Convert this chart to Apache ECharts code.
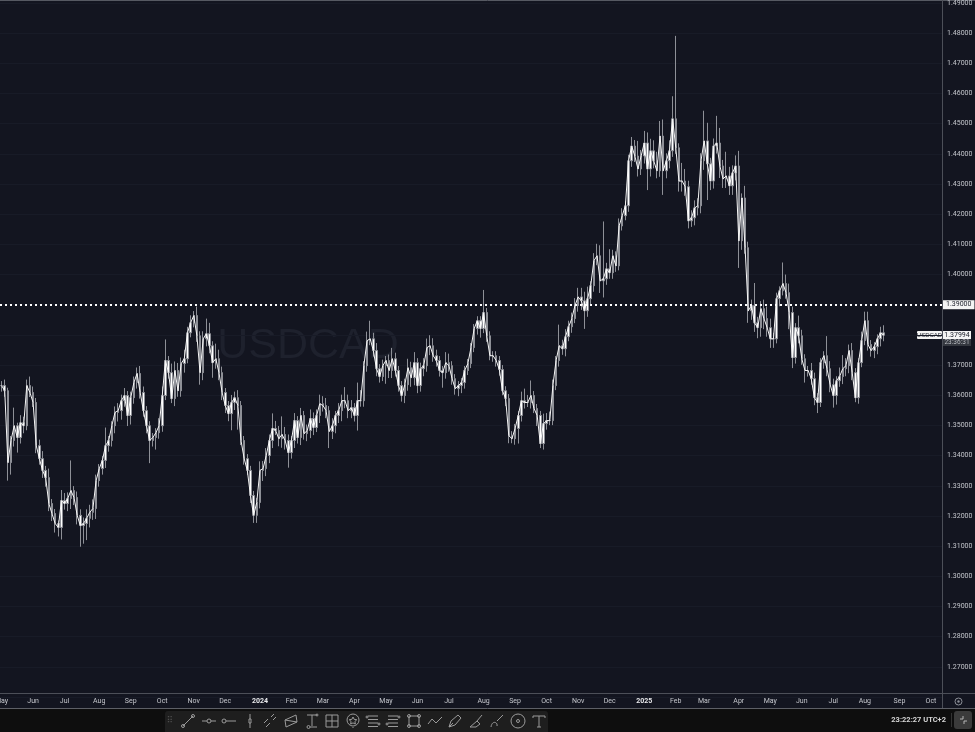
<!DOCTYPE html>
<html>
<head>
<meta charset="utf-8">
<style>html,body{margin:0;padding:0;background:#131520}#c{width:975px;height:732px}</style>
<script src="https://cdn.jsdelivr.net/npm/echarts@6/dist/echarts.min.js"></script>
</head>
<body>
<div id="c"></div>
<script>
const symbolName = 'USDCAD';
const lastPrice = '1.37994';
const countdown = '23:36:31';
const clockText = '23:22:27 UTC+2';
const levelPrice = 1.39;
const monthNames = ['Jan','Feb','Mar','Apr','May','Jun','Jul','Aug','Sep','Oct','Nov','Dec'];
const startDate = '2023-05-01';
const slotDays = 3;
const slotCount = 299;

const closes = [
1.3632,1.3615,1.3377,1.3450,1.3499,1.3460,1.3509,1.3499,1.3632,1.3609,
1.3576,1.3433,1.3390,1.3351,1.3327,1.3241,1.3208,1.3175,1.3162,1.3251,
1.3241,1.3258,1.3284,1.3261,1.3202,1.3168,1.3175,1.3192,1.3212,1.3225,
1.3317,1.3357,1.3384,1.3433,1.3450,1.3499,1.3543,1.3549,1.3582,1.3599,
1.3533,1.3592,1.3642,1.3672,1.3609,1.3549,1.3499,1.3450,1.3460,1.3476,
1.3499,1.3599,1.3715,1.3675,1.3589,1.3682,1.3615,1.3705,1.3721,1.3807,
1.3840,1.3864,1.3797,1.3675,1.3787,1.3804,1.3764,1.3708,1.3721,1.3675,
1.3609,1.3566,1.3539,1.3576,1.3592,1.3566,1.3450,1.3390,1.3351,1.3268,
1.3202,1.3245,1.3351,1.3357,1.3400,1.3450,1.3490,1.3483,1.3456,1.3470,
1.3450,1.3410,1.3450,1.3516,1.3460,1.3533,1.3473,1.3483,1.3523,1.3493,
1.3533,1.3572,1.3566,1.3549,1.3480,1.3499,1.3533,1.3549,1.3582,1.3582,
1.3549,1.3559,1.3533,1.3582,1.3582,1.3698,1.3781,1.3787,1.3748,1.3688,
1.3662,1.3698,1.3715,1.3682,1.3721,1.3682,1.3632,1.3599,1.3635,1.3691,
1.3658,1.3708,1.3632,1.3688,1.3698,1.3758,1.3764,1.3731,1.3715,1.3682,
1.3675,1.3708,1.3698,1.3655,1.3622,1.3632,1.3642,1.3682,1.3705,1.3758,
1.3821,1.3847,1.3821,1.3874,1.3797,1.3731,1.3731,1.3715,1.3685,1.3615,
1.3589,1.3466,1.3456,1.3490,1.3533,1.3582,1.3576,1.3576,1.3599,1.3556,
1.3533,1.3440,1.3506,1.3516,1.3516,1.3632,1.3715,1.3764,1.3754,1.3794,
1.3827,1.3854,1.3897,1.3926,1.3913,1.3880,1.3920,1.3963,1.4046,1.4062,
1.3979,1.3986,1.4019,1.4006,1.4062,1.4029,1.4161,1.4195,1.4228,1.4377,
1.4426,1.4393,1.4350,1.4393,1.4436,1.4350,1.4410,1.4377,1.4344,1.4459,
1.4344,1.4377,1.4410,1.4516,1.4420,1.4310,1.4310,1.4291,1.4178,1.4188,
1.4221,1.4228,1.4377,1.4443,1.4367,1.4310,1.4426,1.4436,1.4360,1.4317,
1.4327,1.4294,1.4337,1.4360,1.4112,1.4254,1.4089,1.3880,1.3897,1.3840,
1.3824,1.3887,1.3854,1.3824,1.3787,1.3787,1.3920,1.3946,1.3970,1.3940,
1.3874,1.3725,1.3824,1.3797,1.3721,1.3682,1.3682,1.3655,1.3592,1.3576,
1.3708,1.3731,1.3688,1.3635,1.3599,1.3648,1.3662,1.3688,1.3698,1.3748,
1.3675,1.3592,1.3708,1.3781,1.3847,1.3768,1.3748,1.3761,1.3787,1.3807,
1.3799
];
// wick lengths above / below the body, in pips, read bar by bar
const upperWicks = [
15,20,10,15,60,10,25,20,20,30,
20,15,20,25,15,30,15,15,10,35,
25,20,100,15,20,20,20,30,25,30,
20,15,15,60,15,15,20,25,20,25,
15,20,20,20,25,20,15,15,15,15,
25,30,70,15,30,30,25,20,30,20,
25,15,30,15,25,50,36,15,50,30,
20,15,15,25,20,25,15,15,15,15,
15,15,30,25,25,20,50,25,15,60,
25,20,15,25,15,25,15,20,30,20,
20,30,25,25,15,25,15,25,20,45,
20,25,15,60,35,15,30,60,20,25,
15,20,15,20,36,20,15,15,20,30,
20,35,15,20,25,30,35,25,20,15,
15,35,30,15,15,15,15,15,15,15,
15,15,15,75,15,15,15,15,15,15,
15,15,15,15,15,30,40,25,50,15,
15,15,33,25,30,20,15,70,20,25,
20,20,25,30,30,30,40,15,25,40,
35,190,20,65,20,15,25,25,15,20,
30,20,50,20,40,35,40,35,30,50,
55,25,35,75,275,15,60,40,20,25,
25,25,25,100,60,20,25,90,50,20,
80,30,25,35,50,15,40,20,20,75,
20,25,30,40,30,20,20,15,70,30,
30,20,15,40,20,15,15,25,20,15,
15,15,65,25,20,15,30,45,25,20,
25,15,15,30,30,30,15,15,15,20,
25
];
const lowerWicks = [
20,20,60,40,20,50,20,25,15,15,
15,25,20,25,30,25,25,30,30,40,
20,25,35,25,30,70,60,55,30,25,
35,20,20,25,20,20,25,30,30,20,
35,30,20,20,20,20,25,75,20,40,
20,20,15,20,15,25,20,20,30,15,
15,15,20,40,25,25,25,50,20,25,
25,25,25,55,25,80,15,20,15,25,
25,25,20,35,25,25,25,15,25,30,
30,50,20,25,20,25,20,25,25,25,
15,25,20,25,55,25,25,25,35,25,
25,25,20,50,20,20,20,15,20,25,
20,15,60,25,25,20,20,20,25,20,
30,25,25,20,25,20,25,20,20,20,
50,20,20,20,20,25,25,20,15,15,
15,20,30,15,20,15,20,20,20,15,
25,25,15,20,50,20,20,15,20,15,
35,15,20,20,15,15,15,20,20,25,
15,20,15,20,30,60,20,20,20,15,
40,55,20,20,20,20,15,15,15,20,
20,20,25,20,25,70,25,25,25,20,
80,25,25,20,20,35,35,30,25,20,
25,25,25,30,120,30,25,25,40,30,
30,30,30,25,90,30,20,40,30,30,
35,30,35,30,30,30,15,25,15,20,
55,35,20,25,20,40,20,20,25,35,
15,20,25,25,40,30,20,25,25,25,
25,15,20,15,15,20,20,25,25,25,
20
];

const opens = closes.map((c, i) => i === 0 ? c : closes[i - 1]);
const ohlc = closes.map((c, i) => {
  const o = opens[i];
  return [o, c,
    +(Math.min(o, c) - (lowerWicks[i] || 0) / 10000).toFixed(4),
    +(Math.max(o, c) + (upperWicks[i] || 0) / 10000).toFixed(4)];
});

const t0 = Date.parse(startDate + 'T00:00:00Z');
// a month label sits on the slot nearest the 1st, so each slot is tested one day ahead
const slotDates = Array.from({length: slotCount}, (_, i) => new Date(t0 + (i * slotDays + 1) * 864e5));
const categories = slotDates.map(d => d.toISOString().slice(0, 10));
const isMonthStart = i => i === 0 || slotDates[i].getUTCMonth() !== slotDates[i - 1].getUTCMonth();

const BG = '#131520', GREY = '#4c4f58', TXT = '#c4c6cc', FONT = 'Roboto, "Liberation Sans", sans-serif';

// toolbar glyphs, each in a 16x16 box
const toolIcons = [
 'M3 13L13 3M3 13m-1.5 0a1.5 1.5 0 1 0 3 0a1.5 1.5 0 1 0-3 0M13 3m-1.5 0a1.5 1.5 0 1 0 3 0a1.5 1.5 0 1 0-3 0',
 'M1 8H6M10 8H15M6 8a2 2 0 1 0 4 0a2 2 0 1 0-4 0',
 'M1 8a2 2 0 1 0 4 0a2 2 0 1 0-4 0M5 8H15',
 'M8 1V6M8 10V15M7 6h2v4h-2z',
 'M2 10L6 6M9 4L12 1M4 14L8 10M11 7L14 4',
 'M2 7L13 2L14 9L3 14ZM2 7L14 9',
 'M3 2H13M8 2V13M3 14a1.5 1.5 0 1 0 3 0a1.5 1.5 0 1 0-3 0M6 14H13M13 2m-1 0a1 1 0 1 0 2 0a1 1 0 1 0-2 0',
 'M2 2H14V14H2ZM8 2V14M2 8H14',
 'M8 14V15M8 1a6 6 0 1 0 .01 0M8 4l1.2 2.4 2.6.3-1.9 1.8.5 2.6L8 9.9l-2.4 1.2.5-2.6-1.9-1.8 2.6-.3Z',
 'M3 3H13M3 6.5H13M3 10H13M3 13.5H13M2 3a1 1 0 1 0 .01 0M14 10a1 1 0 1 0 .01 0',
 'M3 3H13M3 6.5H13M3 10H13M3 13.5H13M14 3a1 1 0 1 0 .01 0M2 10a1 1 0 1 0 .01 0',
 'M3 3H13V13H3ZM1.5 3a1.5 1.5 0 1 0 3 0a1.5 1.5 0 1 0-3 0M11.5 3a1.5 1.5 0 1 0 3 0a1.5 1.5 0 1 0-3 0M1.5 13a1.5 1.5 0 1 0 3 0a1.5 1.5 0 1 0-3 0M11.5 13a1.5 1.5 0 1 0 3 0a1.5 1.5 0 1 0-3 0',
 'M1 11L5 6L9 10L15 4',
 'M2 14L4 8L11 2L14 5L8 12ZM2 14L6 10',
 'M2 14L9 8L12 11L8 14ZM9 8L14 2',
 'M2 14C3 7 9 9 8 13M8 8L14 2',
 'M8 1a7 7 0 1 0 .01 0M8 6.5a1.5 1.5 0 1 0 .01 0',
 'M2 3H14M8 3V14M6 14H10M2 3V5M14 3V5'
];
const toolX = [188,209,229,250,270,291,312,332,353,373,393,414,435,455,476,497,518,539];

const iconStyle = {fill:'none', stroke:'#9a9a9a', lineWidth:1};
function registerIcon(name, d) {
  echarts.graphic.registerShape(name, echarts.graphic.extendPath(d, {}));
}
toolIcons.forEach((d, i) => registerIcon('tool' + i, d));
registerIcon('shrink', 'M5 1V4H2M6 9V6H9');

const graphics = [
  {type:'text', x:308, y:346, style:{text:symbolName, fill:'#1e212d', font:'43px "Liberation Sans", Arial, sans-serif', textAlign:'center', textVerticalAlign:'middle'}},
  {type:'line', shape:{x1:0,y1:0.5,x2:975,y2:0.5}, style:{stroke:'#565962',lineWidth:1}},
  {type:'line', shape:{x1:0,y1:693.5,x2:975,y2:693.5}, style:{stroke:GREY,lineWidth:1}},
  {type:'rect', shape:{x:0,y:708,width:975,height:24}, style:{fill:'#0e0e0e'}},
  {type:'line', shape:{x1:0,y1:708.5,x2:975,y2:708.5}, style:{stroke:'#5d5f66',lineWidth:1}},
  {type:'line', shape:{x1:942.5,y1:0,x2:942.5,y2:708}, style:{stroke:GREY,lineWidth:1}},
  {type:'circle', shape:{cx:958.5,cy:701.5,r:3.5}, style:{fill:'none',stroke:'#8b8e96',lineWidth:1}},
  {type:'circle', shape:{cx:958.5,cy:701.5,r:1.2}, style:{fill:'#8b8e96'}},
  {type:'rect', shape:{x:165,y:711,width:383,height:21,r:[3,3,0,0]}, style:{fill:'#1e1e1e'}},
  {type:'text', x:170, y:721, style:{text:'⠿', fill:'#4d4d4d', font:'9px "DejaVu Sans"', textAlign:'center', textVerticalAlign:'middle'}},
  {type:'text', x:946, y:720.5, style:{text:clockText, fill:'#d6d6d6', font:'bold 7.5px '+FONT, textAlign:'right', textVerticalAlign:'middle'}},
  {type:'line', shape:{x1:951.5,y1:713,x2:951.5,y2:727}, style:{stroke:'#333',lineWidth:1}},
  {type:'rect', shape:{x:954,y:711,width:18,height:18,r:3}, style:{fill:'#3b3b3b'}},
  {type:'shrink', x:958, y:715, style:{fill:'none',stroke:'#b5b5b5',lineWidth:1}},
  {type:'rect', shape:{x:917,y:331,width:25,height:8,r:1}, style:{fill:'#f4f4f4'}},
  {type:'text', x:929.5, y:335.2, style:{text:symbolName, fill:'#1a1d28', font:'6px "Liberation Sans"', textAlign:'center', textVerticalAlign:'middle'}},
  {type:'rect', shape:{x:943,y:331,width:28,height:8}, style:{fill:'#f4f4f4'}},
  {type:'text', x:957, y:335.2, style:{text:lastPrice, fill:'#1a1d28', font:'7px '+FONT, textAlign:'center', textVerticalAlign:'middle'}},
  {type:'rect', shape:{x:943,y:339,width:28,height:7}, style:{fill:'#34373f'}},
  {type:'text', x:957, y:342.7, style:{text:countdown, fill:'#b9bbc1', font:'6.5px '+FONT, textAlign:'center', textVerticalAlign:'middle'}}
];
toolIcons.forEach((d, i) => graphics.push({
  type:'tool' + i, x:toolX[i]-8, y:713, style:iconStyle
}));

const chart = echarts.init(document.getElementById('c'), null, {renderer:'canvas'});
chart.setOption({
  animation:false,
  backgroundColor:BG,
  grid:{left:0, right:33, top:3, bottom:35, containLabel:false, outerBoundsMode:'none'},
  graphic:{z:1, elements:graphics},
  xAxis:{
    type:'category', data:categories, boundaryGap:true,
    axisLine:{show:false}, axisTick:{show:false}, splitLine:{show:false},
    axisLabel:{
      interval:(i) => isMonthStart(i), margin:1, hideOverlap:false,
      color:TXT, fontSize:7, fontFamily:FONT,
      showMinLabel:true,
      formatter:(v) => {
        const d = new Date(v + 'T00:00:00Z');
        const m = d.getUTCMonth();
        return m === 0 ? '{y|' + d.getUTCFullYear() + '}' : monthNames[m];
      },
      rich:{y:{color:'#e8e9ec', fontSize:7, fontWeight:'bold', fontFamily:FONT}}
    }
  },
  yAxis:{
    type:'value', position:'right', min:1.26, max:1.49, interval:0.01, scale:true,
    axisLine:{show:false}, axisTick:{show:false},
    splitLine:{show:true, lineStyle:{color:'#181b27', width:1}},
    axisLabel:{
      margin:5, color:TXT, fontSize:7, fontFamily:FONT, align:'left', showMinLabel:true, showMaxLabel:true,
      formatter:(v) => {
        const s = v.toFixed(5);
        return (s === '1.26000' || s === '1.38000' || s === '1.39000') ? '' : s;
      }
    }
  },
  series:[{
    type:'candlestick', data:ohlc, barWidth:2, clip:true,
    itemStyle:{color:'#ffffff', color0:'#ffffff', borderColor:'#8e9097', borderColor0:'#8e9097', borderWidth:1},
    markLine:{
      silent:true, symbol:'none', animation:false,
      lineStyle:{color:'#ffffff', width:2, type:[2,3]},
      label:{show:true, position:'end', formatter:levelPrice.toFixed(5), color:'#1a1d28', backgroundColor:'#f4f4f4',
        fontSize:7, fontFamily:FONT, padding:[1,3,1,3], distance:1},
      data:[{yAxis:levelPrice}]
    }
  },{
    type:'line', data:closes, symbol:'none', silent:true, z:3,
    lineStyle:{color:'#f6f6f6', width:1}
  }]
});
</script>
</body>
</html>
